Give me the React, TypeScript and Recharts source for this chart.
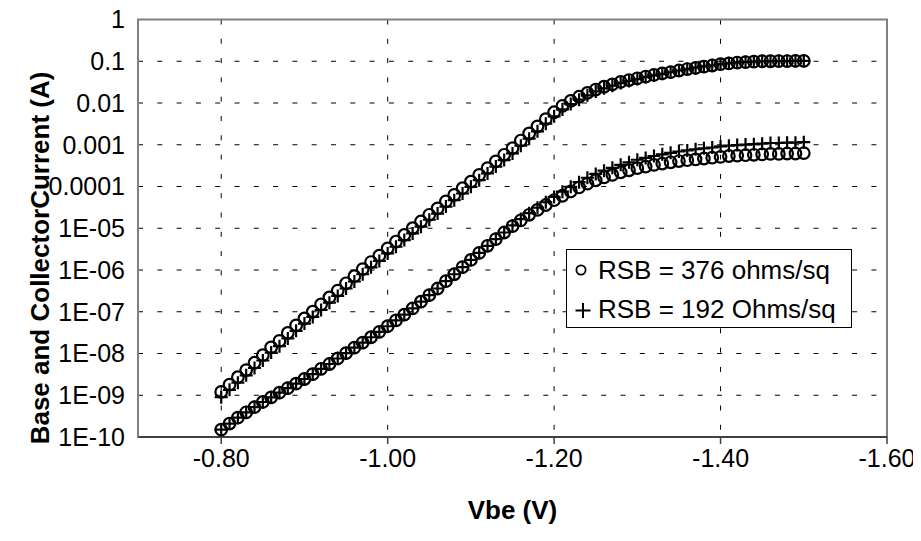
import React from 'react';
import { ScatterChart, Scatter, XAxis, YAxis, CartesianGrid, ReferenceArea, Legend, Label } from 'recharts';

const vbe = [
  -0.80, -0.81, -0.82, -0.83, -0.84, -0.85, -0.86, -0.87, -0.88, -0.89,
  -0.90, -0.91, -0.92, -0.93, -0.94, -0.95, -0.96, -0.97, -0.98, -0.99,
  -1.00, -1.01, -1.02, -1.03, -1.04, -1.05, -1.06, -1.07, -1.08, -1.09,
  -1.10, -1.11, -1.12, -1.13, -1.14, -1.15, -1.16, -1.17, -1.18, -1.19,
  -1.20, -1.21, -1.22, -1.23, -1.24, -1.25, -1.26, -1.27, -1.28, -1.29,
  -1.30, -1.31, -1.32, -1.33, -1.34, -1.35, -1.36, -1.37, -1.38, -1.39,
  -1.40, -1.41, -1.42, -1.43, -1.44, -1.45, -1.46, -1.47, -1.48, -1.49,
  -1.50,
];

// RSB = 376 ohms/sq : collector current (circles, upper curve)
const ic376 = [
  1.2e-9, 1.8e-9, 2.7e-9, 4.0e-9, 6.0e-9, 9.1e-9, 1.4e-8, 2.0e-8, 3.1e-8, 4.7e-8,
  6.9e-8, 1.0e-7, 1.5e-7, 2.2e-7, 3.2e-7, 4.8e-7, 7.1e-7, 1.05e-6, 1.55e-6, 2.2e-6,
  3.3e-6, 4.8e-6, 6.9e-6, 1.0e-5, 1.45e-5, 2.1e-5, 3.0e-5, 4.4e-5, 6.3e-5, 9.1e-5,
  1.3e-4, 1.9e-4, 2.75e-4, 4.0e-4, 5.75e-4, 8.3e-4, 1.26e-3, 1.86e-3, 2.75e-3, 4.1e-3,
  6.0e-3, 8.5e-3, 1.12e-2, 1.41e-2, 1.74e-2, 2.1e-2, 2.45e-2, 2.8e-2, 3.2e-2, 3.55e-2,
  3.9e-2, 4.3e-2, 4.7e-2, 5.1e-2, 5.5e-2, 6.0e-2, 6.5e-2, 6.9e-2, 7.4e-2, 7.9e-2,
  8.5e-2, 8.9e-2, 9.3e-2, 9.5e-2, 9.8e-2, 0.100, 0.100, 0.101, 0.101, 0.102,
  0.102,
];

// RSB = 376 ohms/sq : base current (circles, lower curve)
const ib376 = [
  1.5e-10, 2.1e-10, 2.9e-10, 3.9e-10, 5.2e-10, 6.9e-10, 8.9e-10, 1.15e-9, 1.48e-9, 1.9e-9,
  2.45e-9, 3.2e-9, 4.3e-9, 5.6e-9, 7.6e-9, 1.02e-8, 1.38e-8, 1.82e-8, 2.45e-8, 3.3e-8,
  4.5e-8, 6.2e-8, 8.5e-8, 1.2e-7, 1.74e-7, 2.5e-7, 3.6e-7, 5.4e-7, 7.9e-7, 1.17e-6,
  1.74e-6, 2.57e-6, 3.8e-6, 5.5e-6, 7.9e-6, 1.12e-5, 1.55e-5, 2.1e-5, 2.75e-5, 3.6e-5,
  4.7e-5, 6.0e-5, 7.6e-5, 9.5e-5, 1.17e-4, 1.41e-4, 1.66e-4, 1.9e-4, 2.19e-4, 2.45e-4,
  2.75e-4, 3.0e-4, 3.3e-4, 3.55e-4, 3.8e-4, 4.07e-4, 4.27e-4, 4.47e-4, 4.68e-4, 4.9e-4,
  5.13e-4, 5.37e-4, 5.5e-4, 5.62e-4, 5.75e-4, 5.89e-4, 6.03e-4, 6.03e-4, 6.17e-4, 6.17e-4,
  6.31e-4,
];

// RSB = 192 Ohms/sq : collector current (plus, upper curve)
const ic192 = [
  9.0e-10, 1.35e-9, 2.0e-9, 3.0e-9, 4.5e-9, 6.8e-9, 1.05e-8, 1.5e-8, 2.3e-8, 3.5e-8,
  5.2e-8, 7.5e-8, 1.1e-7, 1.65e-7, 2.4e-7, 3.6e-7, 5.3e-7, 7.9e-7, 1.16e-6, 1.65e-6,
  2.5e-6, 3.6e-6, 5.2e-6, 7.5e-6, 1.09e-5, 1.6e-5, 2.25e-5, 3.3e-5, 4.7e-5, 6.8e-5,
  9.8e-5, 1.42e-4, 2.06e-4, 3.0e-4, 4.3e-4, 6.2e-4, 9.5e-4, 1.4e-3, 2.1e-3, 3.2e-3,
  4.8e-3, 7.0e-3, 9.4e-3, 1.2e-2, 1.53e-2, 1.89e-2, 2.25e-2, 2.6e-2, 3.0e-2, 3.37e-2,
  3.75e-2, 4.17e-2, 4.6e-2, 5.0e-2, 5.45e-2, 6.0e-2, 6.5e-2, 7.0e-2, 7.5e-2, 8.0e-2,
  8.5e-2, 8.9e-2, 9.3e-2, 9.6e-2, 9.8e-2, 0.100, 0.100, 0.101, 0.101, 0.102,
  0.102,
];

// RSB = 192 Ohms/sq : base current (plus, lower curve)
const ib192 = [
  1.5e-10, 2.1e-10, 2.9e-10, 3.9e-10, 5.2e-10, 6.9e-10, 8.9e-10, 1.15e-9, 1.48e-9, 1.9e-9,
  2.45e-9, 3.2e-9, 4.3e-9, 5.6e-9, 7.6e-9, 1.02e-8, 1.38e-8, 1.82e-8, 2.45e-8, 3.3e-8,
  4.5e-8, 6.2e-8, 8.5e-8, 1.2e-7, 1.74e-7, 2.5e-7, 3.6e-7, 5.4e-7, 7.9e-7, 1.17e-6,
  1.74e-6, 2.57e-6, 3.8e-6, 5.5e-6, 7.9e-6, 1.17e-5, 1.66e-5, 2.3e-5, 3.1e-5, 4.2e-5,
  5.6e-5, 7.5e-5, 9.8e-5, 1.27e-4, 1.62e-4, 2.0e-4, 2.4e-4, 2.8e-4, 3.3e-4, 3.8e-4,
  4.37e-4, 4.84e-4, 5.37e-4, 5.9e-4, 6.4e-4, 6.9e-4, 7.3e-4, 7.8e-4, 8.2e-4, 8.6e-4,
  9.1e-4, 9.5e-4, 9.8e-4, 1.01e-3, 1.035e-3, 1.06e-3, 1.1e-3, 1.1e-3, 1.12e-3, 1.12e-3,
  1.15e-3,
];

const xTicks = [-0.8, -1.0, -1.2, -1.4, -1.6];
const yTicks = [1e-10, 1e-9, 1e-8, 1e-7, 1e-6, 1e-5, 1e-4, 1e-3, 1e-2, 1e-1, 1];
const yTickLabels = ['1E-10', '1E-09', '1E-08', '1E-07', '1E-06', '1E-05', '0.0001', '0.001', '0.01', '0.1', '1'];
const seriesNames = ['RSB = 376 ohms/sq', 'RSB = 192 Ohms/sq'];
const xTitle = 'Vbe (V)';
const yTitle = 'Base and CollectorCurrent (A)';

const FONT = '"Liberation Sans", Arial, Helvetica, sans-serif';

const pts = (ys: number[]) => vbe.map((v, k) => ({ v, i: ys[k] }));

const yLabel = (val: number) => {
  const k = yTicks.findIndex((t) => Math.abs(Math.log10(t) - Math.log10(val)) < 1e-6);
  return k >= 0 ? yTickLabels[k] : '';
};

const CircleShape = (props: any) => {
  const { cx, cy } = props;
  if (cx == null || cy == null) return null;
  return <circle cx={cx} cy={cy} r={5.8} fill="none" stroke="#000" strokeWidth={2.2} />;
};

const PlusShape = (props: any) => {
  const { cx, cy } = props;
  if (cx == null || cy == null) return null;
  const h = 6.5;
  return (
    <path
      d={`M${cx - h},${cy}H${cx + h}M${cx},${cy - h}V${cy + h}`}
      stroke="#000"
      strokeWidth={2.2}
      fill="none"
    />
  );
};

const XTitle = (props: any) => {
  const vb = props.viewBox || {};
  return (
    <text
      x={vb.x + vb.width / 2}
      y={vb.y + 73}
      textAnchor="middle"
      dominantBaseline="central"
      fontFamily={FONT}
      fontWeight="bold"
      fontSize={26}
      fill="#000"
    >
      {xTitle}
    </text>
  );
};

const YTitle = () => {
  const x = 40;
  const y = 258;
  return (
    <text
      x={x}
      y={y}
      transform={`rotate(-90, ${x}, ${y})`}
      textAnchor="middle"
      dominantBaseline="central"
      fontFamily={FONT}
      fontWeight="bold"
      fontSize={26}
      fill="#000"
    >
      {yTitle}
    </text>
  );
};

const LegendBox = () => (
  <svg width={286} height={79} style={{ display: 'block' }}>
    <rect x={0.5} y={0.5} width={285} height={78} fill="#fff" stroke="#000" strokeWidth={1} />
    <circle cx={15} cy={21} r={4.6} fill="none" stroke="#000" strokeWidth={1.8} />
    <path d="M9.5,61.5H24.5M17,54V69" stroke="#000" strokeWidth={2} fill="none" />
    <text x={32} y={29.7} fontFamily={FONT} fontSize={26} fill="#000">
      {seriesNames[0]}
    </text>
    <text x={32} y={69} fontFamily={FONT} fontSize={26} fill="#000">
      {seriesNames[1]}
    </text>
  </svg>
);

export default function App() {
  return (
    <div style={{ marginTop: -8, marginLeft: -8, width: 921, height: 533 }}>
      <ScatterChart
        width={921}
        height={533}
        margin={{ top: 19.5, right: 34, bottom: 36, left: 18 }}
        style={{ fontFamily: FONT }}
      >
        <CartesianGrid stroke="#000" strokeWidth={1} strokeDasharray="5 14.3" />
        <XAxis
          type="number"
          dataKey="v"
          domain={[-1.6, -0.7]}
          reversed
          allowDataOverflow
          ticks={xTicks}
          tickFormatter={(v: number) => v.toFixed(2)}
          height={60}
          tickSize={7}
          tickMargin={5}
          axisLine={{ stroke: '#404040', strokeWidth: 2 }}
          tickLine={{ stroke: '#404040', strokeWidth: 1.5 }}
          tick={{ fontSize: 25, fill: '#000', fontFamily: FONT }}
          interval={0}
        >
          <Label content={XTitle} />
        </XAxis>
        <YAxis
          type="number"
          dataKey="i"
          scale="log"
          domain={[1e-10, 1]}
          allowDataOverflow
          ticks={yTicks}
          tickFormatter={yLabel}
          width={120}
          tickSize={0}
          tickMargin={13}
          tickLine={false}
          axisLine={{ stroke: '#808080', strokeWidth: 2 }}
          tick={{ fontSize: 25, fill: '#000', fontFamily: FONT }}
          interval={0}
        >
          <Label content={YTitle} />
        </YAxis>
        <ReferenceArea
          x1={-1.6}
          x2={-0.7}
          y1={1e-10}
          y2={1}
          fill="none"
          fillOpacity={0}
          stroke="#808080"
          strokeWidth={2}
          ifOverflow="visible"
        />
        <Scatter name={seriesNames[0]} data={pts(ic376)} shape={CircleShape} isAnimationActive={false} />
        <Scatter name={seriesNames[0]} data={pts(ib376)} shape={CircleShape} isAnimationActive={false} />
        <Scatter name={seriesNames[1]} data={pts(ic192)} shape={PlusShape} isAnimationActive={false} />
        <Scatter name={seriesNames[1]} data={pts(ib192)} shape={PlusShape} isAnimationActive={false} />
        <Legend
          layout="horizontal"
          align="center"
          verticalAlign="middle"
          content={LegendBox}
          wrapperStyle={{ left: 566, top: 249.3, width: 286, height: 79 }}
        />
      </ScatterChart>
    </div>
  );
}
